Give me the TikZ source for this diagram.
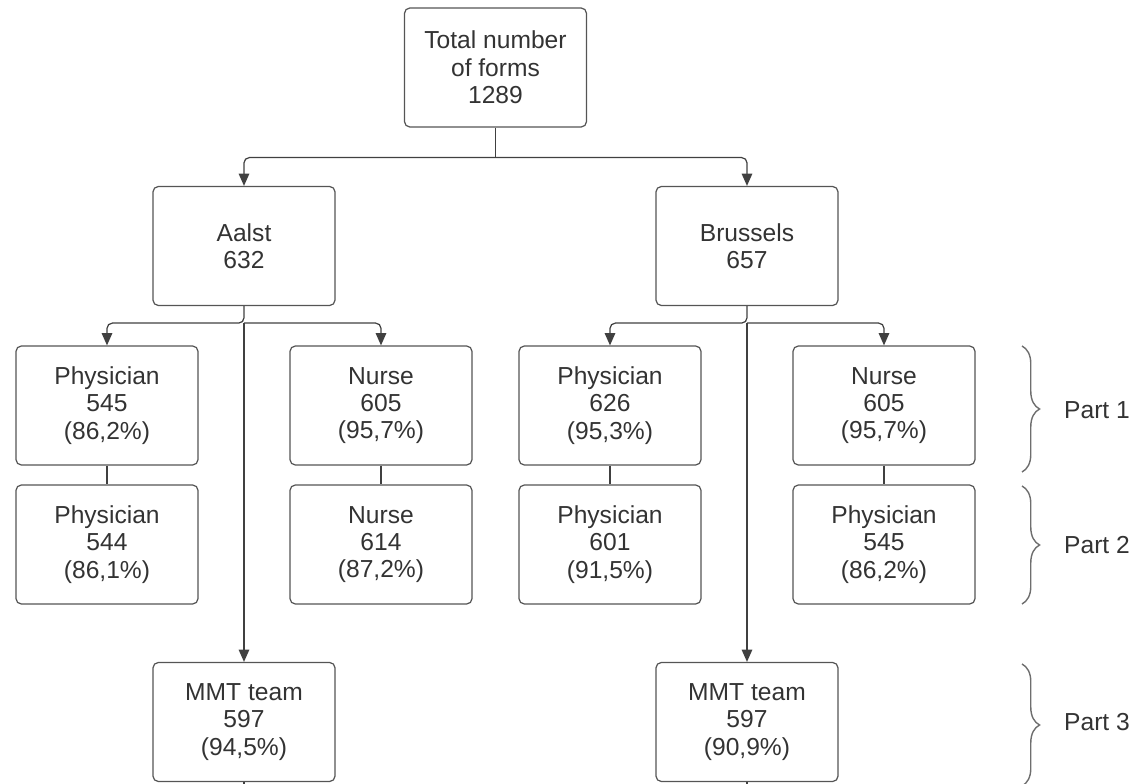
\documentclass[tikz,border=0pt]{standalone}
\usepackage{fontspec}
\setmainfont{Liberation Sans}
\usepackage{xcolor}
\usetikzlibrary{positioning,calc,arrows.meta,decorations.pathreplacing}

\definecolor{boxline}{HTML}{555555}
\definecolor{txt}{HTML}{333333}
\definecolor{wire}{HTML}{404040}
\definecolor{bracecol}{HTML}{6E6E6E}

\tikzset{
  formbox/.style={draw=boxline, line width=0.7pt, rounded corners=3pt,
    minimum width=3.64cm, minimum height=2.38cm, align=center,
    text=txt, font=\fontsize{14}{15.6}\selectfont},
  arr/.style={draw=wire, line width=0.7pt, rounded corners=3pt,
    -{Triangle[length=7pt,width=6pt]}},
  link/.style={draw=wire, line width=0.7pt, rounded corners=3pt},
  partbrace/.style={draw=bracecol, line width=0.8pt,
    decorate, decoration={brace, amplitude=10pt}},
  partlabel/.style={anchor=west, text=txt, font=\fontsize{14}{16}\selectfont}
}

\begin{document}
\begin{tikzpicture}[x=0.02cm,y=-0.02cm]
  \useasboundingbox (0,0) rectangle (1134,784);

  % top level
  \node[formbox] (total) at (495.5,67.5) {Total number\\of forms\\1289};

  % sites
  \node[formbox] (aalst) at (244,246) {Aalst\\632};
  \node[formbox] (brussels) at (747,246) {Brussels\\657};

  % part 1
  \node[formbox] (aphys1) at (107,405.5) {Physician\\545\\(86,2\%)};
  \node[formbox] (anurse1) at (381,405.5) {Nurse\\605\\(95,7\%)};
  \node[formbox] (bphys1) at (610,405.5) {Physician\\626\\(95,3\%)};
  \node[formbox] (bnurse1) at (884,405.5) {Nurse\\605\\(95,7\%)};

  % part 2
  \node[formbox] (aphys2) at (107,544.5) {Physician\\544\\(86,1\%)};
  \node[formbox] (anurse2) at (381,544.5) {Nurse\\614\\(87,2\%)};
  \node[formbox] (bphys2) at (610,544.5) {Physician\\601\\(91,5\%)};
  \node[formbox] (bphys3) at (884,544.5) {Physician\\545\\(86,2\%)};

  % part 3
  \node[formbox] (ammt) at (244,722) {MMT team\\597\\(94,5\%)};
  \node[formbox] (bmmt) at (747,722) {MMT team\\597\\(90,9\%)};

  % connectors
  \coordinate (tsplit) at ($(total.south)+(0,30)$);
  \draw[link] (total.south) -- (tsplit);
  \draw[arr] (tsplit) -| (aalst.north);
  \draw[arr] (tsplit) -| (brussels.north);

  \coordinate (asplit) at ($(aalst.south)+(0,17)$);
  \draw[arr] (aalst.south) -- (asplit) -| (aphys1.north);
  \draw[arr] (asplit) -| (anurse1.north);
  \draw[arr] (asplit) -- (ammt.north);

  \coordinate (bsplit) at ($(brussels.south)+(0,17)$);
  \draw[arr] (brussels.south) -- (bsplit) -| (bphys1.north);
  \draw[arr] (bsplit) -| (bnurse1.north);
  \draw[arr] (bsplit) -- (bmmt.north);

  \draw[link] (aphys1) -- (aphys2);
  \draw[link] (anurse1) -- (anurse2);
  \draw[link] (bphys1) -- (bphys2);
  \draw[link] (bnurse1) -- (bphys3);

  \coordinate (aend) at ($(ammt.south)+(0,12)$);
  \coordinate (bend) at ($(bmmt.south)+(0,12)$);
  \draw[link] (ammt.south) -- (aend);
  \draw[link] (bmmt.south) -- (bend);

  % braces for the parts
  \coordinate (p1top) at (1022,346);
  \coordinate (p1bot) at (1022,472);
  \coordinate (p2top) at (1022,486);
  \coordinate (p2bot) at (1022,604);
  \coordinate (p3top) at (1022,664);
  \coordinate (p3bot) at (1022,786);
  \draw[partbrace] (p1top) -- (p1bot);
  \draw[partbrace] (p2top) -- (p2bot);
  \draw[partbrace] (p3top) -- (p3bot);
  \node[partlabel] (part1) at (1058,410) {Part 1};
  \node[partlabel] (part2) at (1058,545) {Part 2};
  \node[partlabel] (part3) at (1058,722) {Part 3};
\end{tikzpicture}
\end{document}
